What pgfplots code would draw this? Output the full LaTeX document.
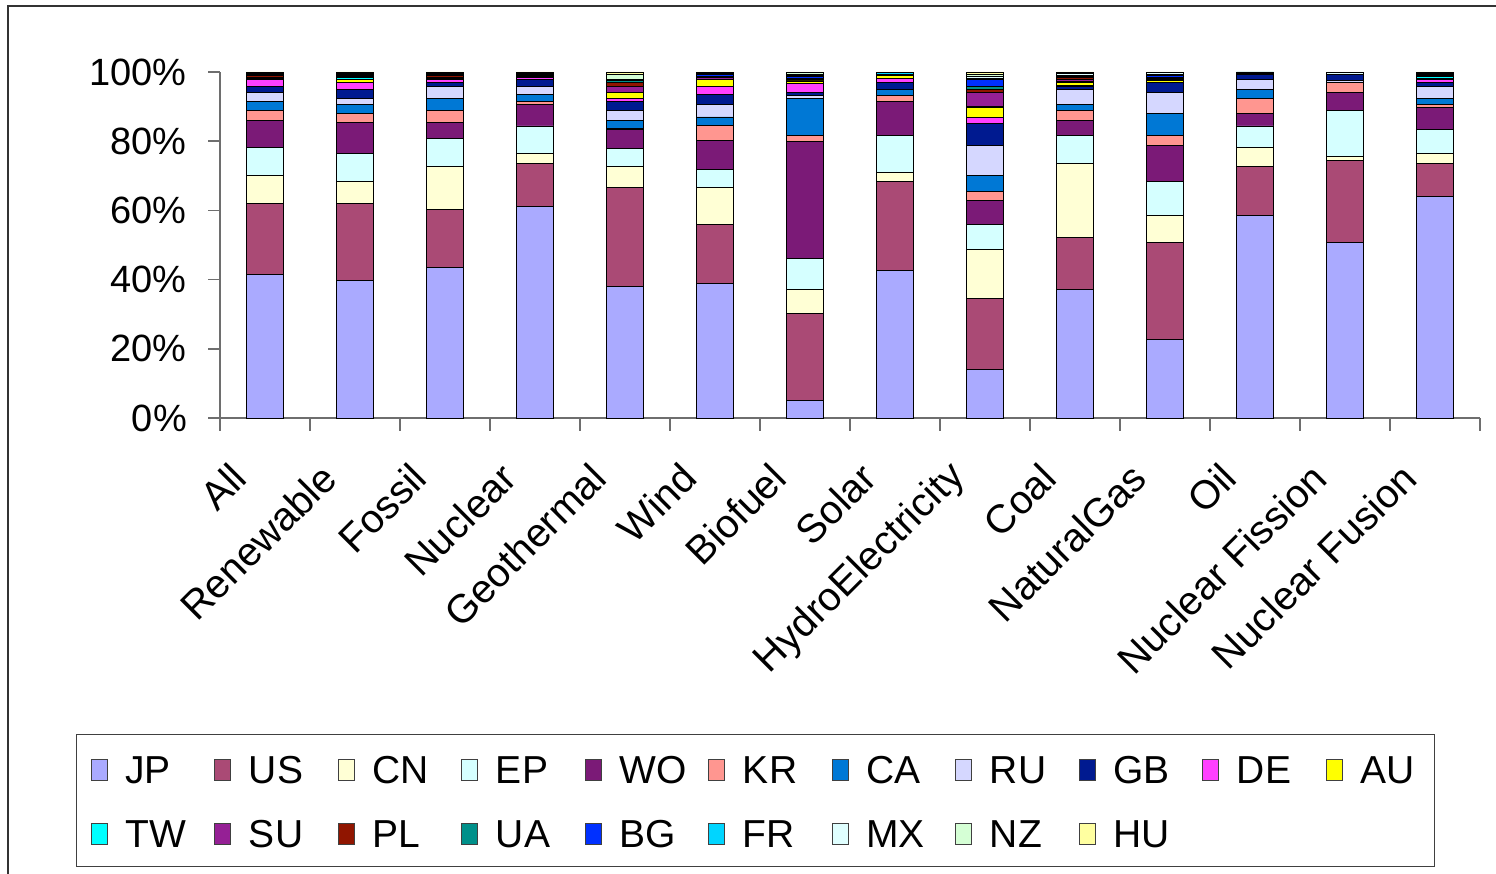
\documentclass[border=0pt]{standalone}
\usepackage{fontspec}
\setmainfont{Liberation Sans}
\usepackage{pgfplots}
\usepackage{pgfplotstable}
\pgfplotsset{compat=1.18}

% colours of the countries
\definecolor{cJP}{HTML}{AAAAFF}
\definecolor{cUS}{HTML}{AA4A75}
\definecolor{cCN}{HTML}{FFFFD5}
\definecolor{cEP}{HTML}{D5FFFF}
\definecolor{cWO}{HTML}{7B1A77}
\definecolor{cKR}{HTML}{FF9690}
\definecolor{cCA}{HTML}{0078D5}
\definecolor{cRU}{HTML}{D5D7FF}
\definecolor{cGB}{HTML}{001A90}
\definecolor{cDE}{HTML}{FF40FF}
\definecolor{cAU}{HTML}{FFFF00}
\definecolor{cTW}{HTML}{00FFFF}
\definecolor{cSU}{HTML}{952095}
\definecolor{cPL}{HTML}{901500}
\definecolor{cUA}{HTML}{00908A}
\definecolor{cBG}{HTML}{0030FF}
\definecolor{cFR}{HTML}{00D5FF}
\definecolor{cMX}{HTML}{E0FFFF}
\definecolor{cNZ}{HTML}{D5FFD5}
\definecolor{cHU}{HTML}{FFFFA0}
\definecolor{axisgray}{HTML}{6E6E6E}

% share (%) of each country per energy field
\pgfplotstableread{
JP   US   CN   EP   WO   KR  CA   RU  GB  DE  AU  TW  SU  PL  UA  BG  FR  MX  NZ  HU
41.6 20.4 8.1  8.1  7.8  2.8 2.7  2.6 1.7 1.9 0.2 0.3 0.3 0.4 0.2 0.1 0.1 0.4 0.2 0.1
39.8 22.2 6.4  8.0  8.9  2.8 2.5  1.8 2.6 1.9 1.0 0.4 0.2 0.1 0.4 0.1 0.2 0.2 0.4 0.1
43.4 16.9 12.5 8.0  4.5  3.5 3.6  3.4 1.2 0.7 0.2 0.2 0.3 0.5 0.3 0.2 0.1 0.3 0.1 0.1
61.2 12.4 2.9  7.9  6.2  0.9 1.9  2.4 2.1 0.5 0.1 0.1 0.2 0.1 0.1 0.3 0.1 0.1 0.1 0.4
38.1 28.6 6.0  5.3  5.4  0.2 2.5  2.7 2.7 0.9 1.7 0.1 1.6 1.1 0.6 0.1 0.1 0.2 1.5 0.6
38.9 17.0 10.8 5.2  8.2  4.4 2.5  3.6 2.8 2.5 1.8 0.2 0.5 0.2 0.2 0.4 0.2 0.3 0.2 0.1
5.1  25.0 7.1  8.8  34.0 1.6 10.8 0.7 1.0 2.6 0.7 0.2 0.2 0.1 0.3 0.6 0.2 0.2 0.6 0.2
42.6 25.8 2.6  10.6 9.9  1.8 1.6  0.1 1.9 1.3 0.8 0.1 0.1 0.0 0.1 0.0 0.6 0.0 0.0 0.1
14.0 20.5 14.1 7.3  7.0  2.5 4.6  8.8 6.4 1.7 2.8 0.2 4.2 0.9 0.8 1.9 0.5 0.5 0.5 0.8
37.2 15.0 21.4 8.0  4.4  2.8 1.8  4.4 0.8 0.2 1.0 0.2 0.5 0.6 0.4 0.2 0.2 0.5 0.2 0.2
22.7 27.9 8.0  9.8  10.4 2.8 6.5  6.0 2.8 0.1 0.6 0.3 0.2 0.1 0.3 0.4 0.4 0.5 0.1 0.1
58.6 14.1 5.4  6.3  3.7  4.3 2.6  2.7 1.7 0.1 0.0 0.0 0.0 0.0 0.5 0.0 0.0 0.0 0.0 0.0
50.6 23.9 1.0  13.3 5.3  2.8 0.1  0.5 1.9 0.0 0.0 0.0 0.0 0.0 0.0 0.0 0.0 0.6 0.0 0.0
64.0 9.6  2.8  7.1  6.2  0.9 1.8  3.4 1.1 0.8 0.5 0.4 0.2 0.1 0.3 0.1 0.2 0.1 0.1 0.3
}\shares

\pgfplotsset{
  cbar/.style={fill=#1, draw=black, line width=0.9pt,
    legend image code/.code={\draw[fill=#1, draw=black!75, line width=0.9pt] (0pt,3pt) rectangle (16pt,24pt);}},
}

\begin{document}
\begin{tikzpicture}
\useasboundingbox (0,0) rectangle (1496pt,874pt);
\draw[black!80, line width=1.5pt] (8pt,-2pt) -- (8pt,868pt) -- (1500pt,868pt);
\begin{axis}[
  at={(220pt,456pt)}, anchor=south west,
  scale only axis, width=1260pt, height=346pt,
  ybar stacked, bar width=37pt,
  xmin=-0.5, xmax=13.5, ymin=0, ymax=100,
  clip=false,
  axis x line*=bottom, axis y line*=left,
  axis line style={-, draw=axisgray, line width=1.5pt},
  tick align=outside,
  major tick length=12pt,
  minor tick length=13pt,
  ytick={0,20,...,100},
  yticklabels={0\%,20\%,40\%,60\%,80\%,100\%},
  y tick style={draw=axisgray, line width=1.5pt},
  xtick={0,...,13},
  xticklabels={All,Renewable,Fossil,Nuclear,Geothermal,Wind,Biofuel,Solar,HydroElectricity,Coal,NaturalGas,Oil,Nuclear Fission,Nuclear Fusion},
  major x tick style={draw=none},
  minor xtick={-0.5,0.5,...,13.5},
  minor x tick style={draw=axisgray, line width=1.5pt},
  tick label style={font=\fontsize{38}{38}\selectfont},
  yticklabel style={anchor=east, inner sep=0pt, xshift=-21pt},
  xticklabel style={font=\fontsize{40}{40}\selectfont, xshift=-26pt, yshift=-41pt, rotate=45, anchor=east, inner sep=0pt},
  legend columns=11,
  legend cell align=left,
  legend style={
    at={(-0.11429,-0.9133)}, anchor=north west,
    draw=black!75, line width=1.2pt,
    inner xsep=14pt, inner ysep=19pt,
    font=\fontsize{39}{39}\selectfont,
    nodes={inner sep=0pt, text height=30pt, text depth=0pt, text width=60pt, anchor=base west},
    column sep=0pt,
    row sep=34pt,
    /tikz/every odd column/.append style={column sep=18pt},
    /tikz/every even column/.append style={column sep=28.6pt},
  },
]
\addplot[cbar=cJP] table[x expr=\coordindex, y=JP] {\shares};
\addplot[cbar=cUS] table[x expr=\coordindex, y=US] {\shares};
\addplot[cbar=cCN] table[x expr=\coordindex, y=CN] {\shares};
\addplot[cbar=cEP] table[x expr=\coordindex, y=EP] {\shares};
\addplot[cbar=cWO] table[x expr=\coordindex, y=WO] {\shares};
\addplot[cbar=cKR] table[x expr=\coordindex, y=KR] {\shares};
\addplot[cbar=cCA] table[x expr=\coordindex, y=CA] {\shares};
\addplot[cbar=cRU] table[x expr=\coordindex, y=RU] {\shares};
\addplot[cbar=cGB] table[x expr=\coordindex, y=GB] {\shares};
\addplot[cbar=cDE] table[x expr=\coordindex, y=DE] {\shares};
\addplot[cbar=cAU] table[x expr=\coordindex, y=AU] {\shares};
\addplot[cbar=cTW] table[x expr=\coordindex, y=TW] {\shares};
\addplot[cbar=cSU] table[x expr=\coordindex, y=SU] {\shares};
\addplot[cbar=cPL] table[x expr=\coordindex, y=PL] {\shares};
\addplot[cbar=cUA] table[x expr=\coordindex, y=UA] {\shares};
\addplot[cbar=cBG] table[x expr=\coordindex, y=BG] {\shares};
\addplot[cbar=cFR] table[x expr=\coordindex, y=FR] {\shares};
\addplot[cbar=cMX] table[x expr=\coordindex, y=MX] {\shares};
\addplot[cbar=cNZ] table[x expr=\coordindex, y=NZ] {\shares};
\addplot[cbar=cHU] table[x expr=\coordindex, y=HU] {\shares};
\legend{JP,US,CN,EP,WO,KR,CA,RU,GB,DE,AU,TW,SU,PL,UA,BG,FR,MX,NZ,HU}
\end{axis}
\end{tikzpicture}
\end{document}
